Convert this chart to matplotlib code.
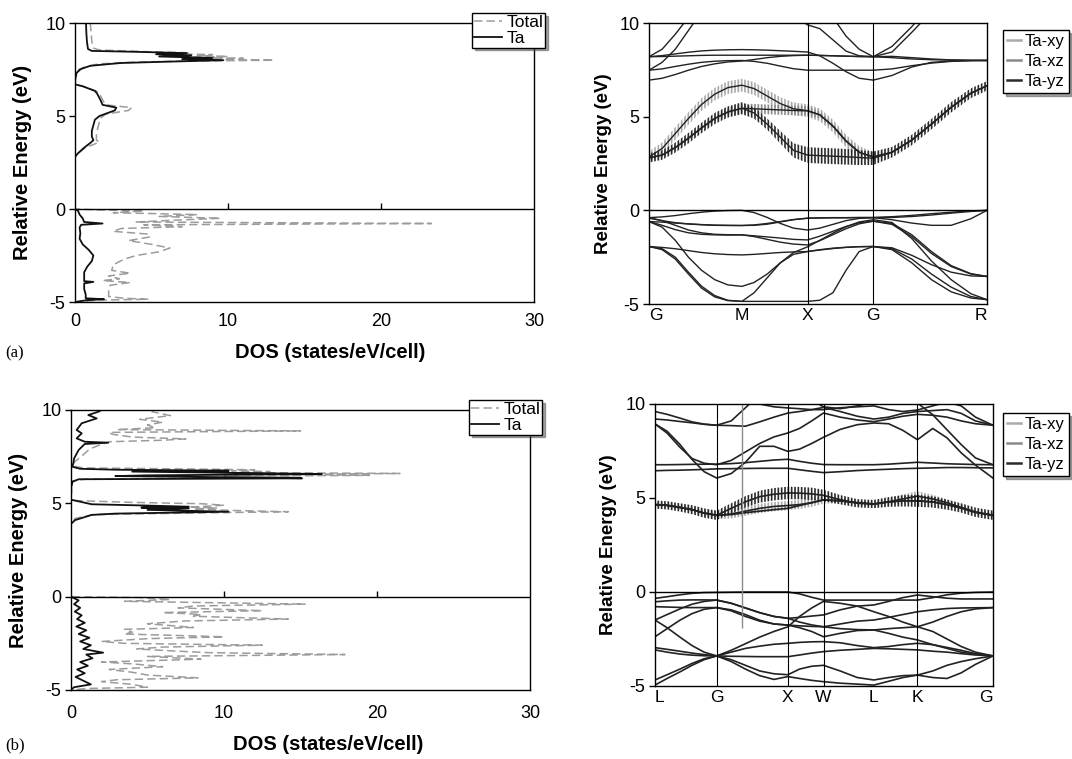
import numpy as np
import matplotlib
matplotlib.use('Agg')
import matplotlib.pyplot as plt
from matplotlib.lines import Line2D

plt.rcParams['font.family'] = 'Liberation Sans'
plt.rcParams['axes.unicode_minus'] = False
plt.rcParams['lines.scale_dashes'] = False
plt.rcParams['hatch.linewidth'] = 1.2

# ---------------------------------------------------------------------------------
# DOS data, structure (a)

ta_a_E = [10.0, 9.5, 9.0, 8.6, 8.5, 8.45, 8.38, 8.32, 8.26, 8.2, 8.12, 8.06, 8.0, 7.92, 7.85,
          7.7, 7.5, 7.3, 7.0, 6.7, 6.6, 6.35, 6.2, 5.8, 5.6, 5.45, 5.3, 5.0, 4.8, 4.5,
          4.2, 3.9, 3.7, 3.55, 3.3, 3.0, 2.8, 0.0, -0.1, -0.3, -0.5, -0.7, -0.78, -0.85, -1.0,
          -1.3, -1.6, -1.9, -2.2, -2.5, -2.8, -3.1, -3.4, -3.7, -3.88, -3.92, -4.0, -4.3, -4.6, -4.8,
          -4.85, -4.9, -5.0]
ta_a_dos = [0.72, 0.74, 0.78, 0.85, 1.1, 4.0, 7.3, 5.3, 7.6, 5.5, 9.0, 7.0, 9.7, 6.0, 3.0,
            1.0, 0.3, 0.1, 0.0, 0.0, 0.5, 1.3, 1.45, 1.7, 1.8, 2.7, 2.6, 1.6, 1.3, 1.2,
            1.1, 1.1, 1.2, 1.0, 0.6, 0.2, 0.0, 0.0, 0.2, 0.3, 0.5, 0.6, 1.8, 0.4, 0.3,
            0.35, 0.3, 0.5, 0.9, 1.2, 1.1, 0.8, 0.6, 0.6, 0.6, 1.2, 0.6, 0.6, 0.7, 0.7,
            1.9, 0.8, 0.0]

tot_a_E = [10.0, 9.5, 9.0, 8.65, 8.55, 8.45, 8.4, 8.35, 8.3, 8.25, 8.2, 8.15, 8.1, 8.05, 8.0,
           7.95, 7.9, 7.8, 7.6, 7.3, 7.0, 6.7, 6.6, 6.3, 6.2, 5.8, 5.6, 5.45, 5.3, 5.1,
           4.9, 4.7, 4.4, 4.0, 3.7, 3.6, 3.3, 3.0, 2.8, 0.0, -0.05, -0.1, -0.2, -0.3, -0.4,
           -0.5, -0.6, -0.7, -0.78, -0.85, -0.95, -1.05, -1.2, -1.35, -1.5, -1.7, -1.9, -2.1, -2.3, -2.5,
           -2.7, -3.0, -3.3, -3.45, -3.6, -3.75, -3.85, -3.95, -4.1, -4.4, -4.7, -4.8, -4.85, -4.9, -5.0]
tot_a_dos = [1.0, 1.05, 1.1, 1.2, 1.6, 5.0, 7.5, 6.0, 9.0, 8.0, 10.0, 7.5, 11.0, 8.5, 13.0,
             7.0, 4.0, 1.5, 0.5, 0.15, 0.05, 0.0, 0.5, 1.5, 1.6, 1.85, 2.0, 3.7, 3.5, 2.0,
             1.7, 1.6, 1.5, 1.4, 1.4, 1.6, 0.7, 0.2, 0.0, 0.0, 1.5, 4.5, 2.5, 8.0, 5.5,
             9.5, 6.5, 4.0, 23.3, 4.5, 7.0, 3.0, 2.5, 4.8, 4.9, 3.5, 5.0, 6.2, 5.5, 4.0,
             3.2, 2.5, 2.4, 3.6, 2.2, 2.9, 1.8, 3.6, 2.3, 2.2, 2.2, 3.2, 4.8, 1.5, 0.0]

# DOS data, structure (b)

ta_b_E = [10.0, 9.91, 9.73, 9.55, 9.29, 8.93, 8.75, 8.48, 8.3, 8.25, 8.18, 7.86, 7.4, 7.14, 6.96,
          6.85, 6.8, 6.75, 6.7, 6.62, 6.57, 6.5, 6.46, 6.4, 6.34, 6.29, 6.16, 5.9, 5.2, 5.18,
          4.95, 4.88, 4.82, 4.77, 4.73, 4.65, 4.55, 4.45, 4.38, 4.1, 3.9, 0.0, -0.2, -0.4, -0.6,
          -0.8, -1.0, -1.2, -1.4, -1.6, -1.8, -2.0, -2.2, -2.4, -2.6, -2.8, -3.0, -3.1, -3.3, -3.5,
          -3.7, -3.9, -4.1, -4.3, -4.5, -4.7, -4.85, -5.0]
ta_b_dos = [2.0, 1.8, 1.13, 1.68, 0.7, 0.37, 0.7, 0.37, 0.9, 2.44, 0.9, 0.5, 0.2, 0.15, 0.09,
            0.6, 3.0, 10.3, 4.0, 12.0, 16.4, 5.0, 2.9, 10.0, 15.1, 0.5, 0.1, 0.02, 0.0, 0.09,
            1.35, 5.0, 7.7, 4.6, 7.7, 5.0, 10.3, 2.9, 1.35, 0.26, 0.0, 0.0, 0.5, 0.2, 0.6,
            0.25, 0.7, 0.4, 0.9, 0.35, 1.0, 0.5, 1.2, 0.6, 1.3, 0.8, 2.1, 1.0, 1.4, 0.6,
            1.1, 0.4, 0.9, 0.3, 0.8, 1.3, 0.2, 0.0]

tot_b_E = [10.0, 9.91, 9.7, 9.5, 9.35, 9.2, 9.05, 8.95, 8.88, 8.8, 8.7, 8.55, 8.45, 8.38, 8.3,
           8.1, 7.9, 7.6, 7.2, 7.0, 6.9, 6.85, 6.8, 6.75, 6.7, 6.65, 6.6, 6.55, 6.5, 6.45,
           6.4, 6.35, 6.3, 6.2, 5.3, 5.15, 5.05, 4.98, 4.9, 4.85, 4.8, 4.75, 4.7, 4.62, 4.55,
           4.48, 4.4, 4.2, 4.0, 0.0, -0.05, -0.15, -0.25, -0.4, -0.5, -0.6, -0.75, -0.85, -0.95, -1.05,
           -1.2, -1.3, -1.45, -1.55, -1.65, -1.75, -1.9, -2.0, -2.15, -2.25, -2.4, -2.5, -2.6, -2.7, -2.8,
           -2.9, -3.0, -3.1, -3.2, -3.35, -3.5, -3.6, -3.75, -3.9, -4.05, -4.2, -4.35, -4.45, -4.55, -4.7,
           -4.85, -4.92, -5.0]
tot_b_dos = [5.3, 5.3, 6.5, 4.5, 6.0, 5.0, 5.5, 3.0, 15.0, 2.5, 2.7, 4.0, 7.5, 6.0, 2.5,
             1.8, 1.2, 0.8, 0.2, 0.1, 0.8, 6.5, 12.0, 10.5, 13.0, 11.0, 21.5, 14.0, 19.5, 10.0,
             14.5, 8.0, 1.0, 0.1, 0.0, 0.2, 4.0, 8.5, 10.0, 9.0, 7.7, 9.5, 8.0, 10.5, 14.2,
             8.0, 1.5, 0.3, 0.0, 0.0, 4.5, 6.5, 3.5, 15.3, 8.0, 7.0, 12.5, 6.0, 8.5, 8.0,
             14.2, 7.5, 5.0, 6.5, 8.0, 3.5, 4.0, 3.5, 10.0, 5.0, 2.0, 3.5, 12.5, 6.0, 4.3,
             6.5, 9.0, 17.9, 5.0, 8.5, 2.0, 4.0, 6.0, 2.5, 4.0, 5.0, 8.3, 3.0, 2.0, 4.0,
             5.0, 1.0, 0.0]

dos_ticks = [0, 10, 20, 30]
e_ticks = [-5, 0, 5, 10]

# ---------------------------------------------------------------------------------
# Band structure (a): G-M-X-G-R

ka = [0.0, 0.1, 0.2, 0.3, 0.4, 0.5, 0.6, 0.707, 0.8, 0.9, 1.0, 1.1, 1.207,
      1.3, 1.4, 1.5, 1.6, 1.707, 1.85, 2.0, 2.15, 2.3, 2.45, 2.573]
kpts_a = [0.0, 0.707, 1.207, 1.707, 2.573]
klabels_a = ['G', 'M', 'X', 'G', 'R']
kline_a = [1.207, 1.707]

up_a1 = [8.20, 8.60, 9.40, 10.3, 11.0, 11.5, 11.8, 12.0, 11.8, 11.4, 10.9, 10.4, 9.90,
         9.70, 9.10, 8.50, 8.25, 8.20, 8.75, 9.80, 11.0, 11.8, 12.0, 12.0]
up_a2 = [7.48, 7.90, 8.60, 9.60, 10.6, 11.5, 12.0, 12.0, 12.0, 12.0, 12.0, 12.0, 12.0,
         11.5, 10.3, 9.30, 8.60, 8.20, 8.45, 9.50, 10.6, 11.5, 12.0, 12.0]
up_a3 = [8.20, 8.21, 8.23, 8.25, 8.27, 8.28, 8.28, 8.28, 8.28, 8.28, 8.28, 8.28, 8.28,
         8.27, 8.25, 8.23, 8.21, 8.20, 8.22, 8.15, 8.08, 8.03, 8.01, 8.00]
up_a4 = [8.20, 8.26, 8.35, 8.44, 8.51, 8.55, 8.57, 8.58, 8.57, 8.55, 8.52, 8.49, 8.45,
         8.25, 7.85, 7.40, 7.05, 6.95, 7.20, 7.65, 7.90, 7.97, 7.99, 8.00]
up_a5 = [7.48, 7.55, 7.68, 7.80, 7.90, 7.96, 7.99, 8.00, 7.95, 7.85, 7.70, 7.56, 7.48,
         7.48, 7.48, 7.48, 7.48, 7.48, 7.55, 7.72, 7.86, 7.95, 7.99, 8.00]
up_a6 = [6.95, 7.05, 7.25, 7.48, 7.68, 7.82, 7.92, 7.97, 8.05, 8.15, 8.22, 8.26, 8.28,
         8.27, 8.25, 8.23, 8.21, 8.20, 8.15, 8.08, 8.04, 8.02, 8.01, 8.00]

yz_a = [2.80, 2.95, 3.35, 3.85, 4.40, 4.90, 5.25, 5.45, 5.20, 4.60, 3.90, 3.20, 2.95,
        2.92, 2.89, 2.86, 2.82, 2.78, 3.10, 3.75, 4.60, 5.50, 6.25, 6.65]
xy_a = [2.85, 3.30, 4.10, 4.90, 5.65, 6.20, 6.55, 6.68, 6.50, 6.10, 5.70, 5.42, 5.32,
        5.10, 4.50, 3.70, 3.10, 2.85, 3.10, 3.75, 4.60, 5.50, 6.25, 6.65]
xz_a = [2.80, 2.95, 3.35, 3.85, 4.40, 4.90, 5.25, 5.45, 5.42, 5.39, 5.36, 5.33, 5.31,
        5.10, 4.50, 3.70, 3.10, 2.85, 3.10, 3.75, 4.60, 5.50, 6.25, 6.65]
# orbital weights (half-width of the fat bands, eV)
yz_w_a = [0.25, 0.25, 0.27, 0.28, 0.28, 0.30, 0.30, 0.32, 0.30, 0.30, 0.33, 0.38, 0.42,
          0.42, 0.42, 0.42, 0.40, 0.36, 0.28, 0.28, 0.28, 0.28, 0.26, 0.25]
xy_w_a = [0.30, 0.32, 0.34, 0.34, 0.34, 0.34, 0.34, 0.34, 0.34, 0.34, 0.34, 0.34, 0.34,
          0.34, 0.34, 0.34, 0.32, 0.28, 0.0, 0.0, 0.0, 0.0, 0.0, 0.0]
xz_w_a = [0.12, 0.12, 0.12, 0.12, 0.12, 0.14, 0.18, 0.24, 0.26, 0.26, 0.26, 0.26, 0.26,
          0.18, 0.14, 0.14, 0.14, 0.12, 0.0, 0.0, 0.0, 0.0, 0.0, 0.0]

lo_a1 = [-0.39, -0.35, -0.28, -0.18, -0.10, -0.04, -0.01, 0.0, -0.12, -0.38, -0.70, -0.95, -1.05,
         -0.95, -0.75, -0.55, -0.43, -0.39, -0.50, -0.68, -0.80, -0.80, -0.45, 0.0]
lo_a2 = [-0.42, -0.55, -0.66, -0.73, -0.77, -0.80, -0.81, -0.81, -0.78, -0.70, -0.60, -0.49, -0.42,
         -0.40, -0.39, -0.39, -0.38, -0.38, -0.34, -0.27, -0.18, -0.10, -0.03, 0.0]
lo_a3 = [-0.60, -0.80, -1.03, -1.20, -1.28, -1.31, -1.32, -1.31, -1.36, -1.42, -1.48, -1.55, -1.58,
         -1.38, -1.12, -0.86, -0.66, -0.58, -0.75, -1.40, -2.30, -3.00, -3.40, -3.53]
lo_a4 = [-0.60, -0.90, -1.60, -2.50, -3.20, -3.70, -3.98, -4.06, -3.85, -3.40, -2.80, -2.25, -1.95,
         -1.60, -1.22, -0.88, -0.62, -0.50, -0.65, -1.50, -2.70, -3.70, -4.45, -4.77]
lo_a5 = [-1.93, -2.05, -2.50, -3.30, -4.05, -4.55, -4.80, -4.86, -4.40, -3.60, -2.80, -2.35, -2.20,
         -2.10, -2.02, -1.97, -1.94, -1.93, -2.00, -2.40, -2.90, -3.30, -3.50, -3.53]
lo_a6 = [-1.93, -2.10, -2.60, -3.40, -4.15, -4.62, -4.82, -4.86, -4.86, -4.86, -4.86, -4.86, -4.86,
         -4.80, -4.40, -3.20, -2.20, -1.93, -2.10, -2.80, -3.70, -4.35, -4.68, -4.77]
lo_a7 = [-1.93, -1.98, -2.05, -2.15, -2.25, -2.32, -2.36, -2.38, -2.35, -2.30, -2.25, -2.22, -2.20,
         -2.12, -2.04, -1.98, -1.94, -1.93, -2.05, -2.60, -3.40, -4.10, -4.60, -4.77]
lo_a8 = [-0.39, -0.55, -0.80, -1.05, -1.20, -1.28, -1.30, -1.31, -1.40, -1.55, -1.70, -1.80, -1.85,
         -1.62, -1.30, -0.98, -0.72, -0.58, -0.70, -1.30, -2.20, -2.95, -3.38, -3.53]
lo_a9 = [-0.60, -0.63, -0.68, -0.72, -0.76, -0.79, -0.80, -0.81, -0.80, -0.74, -0.62, -0.50, -0.42,
         -0.41, -0.40, -0.40, -0.39, -0.39, -0.38, -0.33, -0.25, -0.15, -0.06, 0.0]

# ---------------------------------------------------------------------------------
# Band structure (b): L-G-X-W-L-K-G

kb = [0.0, 0.17, 0.35, 0.52, 0.69, 0.866, 1.07, 1.27, 1.47, 1.67, 1.866,
      2.03, 2.2, 2.366, 2.6, 2.84, 3.073, 3.28, 3.48, 3.685, 3.9, 4.1, 4.3, 4.5, 4.746]
kpts_b = [0.0, 0.866, 1.866, 2.366, 3.073, 3.685, 4.746]
klabels_b = ['L', 'G', 'X', 'W', 'L', 'K', 'G']
kline_b = [0.866, 1.866, 2.366, 3.685]
kmark_b = 1.217

up_b1 = [6.77, 6.77, 6.78, 6.79, 6.80, 6.80, 6.83, 6.88, 6.95, 7.02, 7.06,
         6.95, 6.85, 6.78, 6.77, 6.77, 6.77, 6.80, 6.85, 6.90, 6.86, 6.82, 6.80, 6.78, 6.77]
up_b2 = [6.45, 6.47, 6.48, 6.50, 6.52, 6.55, 6.56, 6.57, 6.58, 6.58, 6.58,
         6.50, 6.42, 6.35, 6.40, 6.46, 6.50, 6.53, 6.56, 6.58, 6.60, 6.62, 6.62, 6.61, 6.60]
up_b3 = [8.94, 8.55, 7.85, 7.05, 6.40, 6.06, 6.30, 6.90, 7.75, 7.75, 7.48,
         7.60, 7.90, 8.23, 8.65, 8.90, 8.99, 8.95, 8.60, 8.10, 8.70, 8.20, 7.40, 6.75, 6.06]
up_b4 = [8.94, 8.45, 7.70, 7.10, 6.85, 6.77, 7.00, 7.45, 7.90, 8.25, 8.46,
         8.70, 9.10, 9.52, 9.30, 9.15, 9.06, 9.20, 9.35, 9.45, 9.40, 9.30, 9.10, 8.95, 8.87]
up_b5 = [9.20, 9.15, 9.07, 9.00, 8.92, 8.87, 8.85, 8.82, 9.05, 9.30, 9.52,
         9.60, 9.70, 9.82, 9.60, 9.35, 9.20, 9.30, 9.50, 9.60, 9.65, 9.70, 9.50, 9.10, 8.87]
up_b6 = [9.60, 9.45, 9.25, 9.05, 8.93, 8.87, 9.10, 9.80, 10.5, 11.0, 11.0,
         10.6, 10.2, 9.85, 9.75, 9.90, 10.1, 10.1, 10.3, 10.05, 9.43, 8.63, 7.84, 7.13, 6.77]
up_b7 = [9.96, 10.2, 10.4, 10.5, 10.5, 10.5, 10.4, 10.2, 10.0, 9.85, 9.79,
         9.75, 9.70, 9.70, 9.80, 9.85, 9.90, 9.70, 9.60, 9.68, 9.90, 10.1, 9.90, 9.30, 8.87]

yz_b = [4.65, 4.61, 4.50, 4.38, 4.20, 4.08, 4.45, 4.80, 5.07, 5.20, 5.27,
        5.26, 5.22, 5.14, 4.91, 4.72, 4.68, 4.79, 4.85, 4.85, 4.79, 4.65, 4.47, 4.24, 4.08]
xy_b = [4.65, 4.61, 4.50, 4.38, 4.20, 4.08, 4.15, 4.30, 4.45, 4.55, 4.60,
        4.65, 4.75, 4.90, 4.85, 4.75, 4.68, 4.80, 4.95, 5.10, 4.95, 4.75, 4.50, 4.25, 4.08]
xz_b = [4.65, 4.61, 4.50, 4.38, 4.20, 4.08, 4.12, 4.22, 4.30, 4.38, 4.45,
        4.60, 4.75, 4.90, 4.85, 4.75, 4.68, 4.79, 4.85, 4.85, 4.79, 4.65, 4.47, 4.24, 4.08]
yz_w_b = [0.22, 0.22, 0.22, 0.24, 0.25, 0.25, 0.27, 0.30, 0.32, 0.33, 0.33,
          0.33, 0.33, 0.30, 0.25, 0.22, 0.22, 0.26, 0.30, 0.32, 0.30, 0.27, 0.25, 0.25, 0.25]
xy_w_b = [0.12, 0.12, 0.12, 0.14, 0.18, 0.22, 0.24, 0.24, 0.24, 0.24, 0.24,
          0.24, 0.22, 0.20, 0.14, 0.12, 0.12, 0.18, 0.24, 0.26, 0.22, 0.18, 0.15, 0.12, 0.12]
xz_w_b = [0.05, 0.05, 0.05, 0.05, 0.05, 0.06, 0.08, 0.08, 0.08, 0.08, 0.08,
          0.08, 0.08, 0.08, 0.05, 0.05, 0.05, 0.05, 0.05, 0.05, 0.05, 0.05, 0.05, 0.05, 0.05]

lo_b1 = [-0.34, -0.25, -0.15, -0.07, -0.03, -0.02, -0.01, 0.0, 0.0, 0.0, 0.0,
         -0.10, -0.28, -0.43, -0.43, -0.43, -0.43, -0.43, -0.43, -0.43, -0.30, -0.15, -0.06, -0.02, 0.0]
lo_b2 = [-0.52, -0.47, -0.43, -0.42, -0.42, -0.43, -0.60, -0.85, -1.10, -1.30, -1.40,
         -1.35, -1.28, -1.22, -0.95, -0.75, -0.69, -0.50, -0.30, -0.16, -0.25, -0.33, -0.37, -0.37, -0.37]
lo_b3 = [-0.78, -0.80, -0.82, -0.83, -0.83, -0.83, -0.95, -1.20, -1.50, -1.70, -1.76,
         -1.80, -1.83, -1.85, -1.70, -1.55, -1.49, -1.35, -1.20, -1.05, -0.95, -0.88, -0.85, -0.84, -0.83]
lo_b4 = [-1.49, -1.90, -2.40, -2.85, -3.20, -3.40, -3.20, -3.00, -2.88, -2.78, -2.73,
         -2.68, -2.65, -2.64, -2.70, -2.85, -2.96, -2.90, -2.80, -2.73, -2.80, -2.95, -3.10, -3.28, -3.40]
lo_b5 = [-2.38, -1.95, -1.50, -1.15, -0.92, -0.83, -1.00, -1.30, -1.55, -1.70, -1.76,
         -1.90, -2.10, -2.38, -2.20, -2.05, -2.02, -1.95, -1.90, -1.85, -1.60, -1.30, -1.05, -0.90, -0.83]
lo_b6 = [-2.96, -3.05, -3.15, -3.25, -3.33, -3.40, -3.42, -3.43, -3.44, -3.44, -3.44,
         -3.35, -3.25, -3.17, -3.10, -3.05, -3.00, -3.02, -3.05, -3.08, -3.15, -3.20, -3.28, -3.35, -3.40]
lo_b7 = [-4.95, -4.60, -4.25, -3.90, -3.60, -3.40, -3.70, -4.10, -4.45, -4.65, -4.50,
         -4.60, -4.70, -4.77, -4.85, -4.90, -4.95, -4.75, -4.55, -4.42, -4.55, -4.60, -4.30, -3.85, -3.40]
lo_b8 = [-4.68, -4.40, -4.10, -3.80, -3.55, -3.40, -3.60, -3.90, -4.20, -4.35, -4.40,
         -4.10, -3.95, -3.90, -4.20, -4.55, -4.68, -4.55, -4.45, -4.42, -4.20, -3.90, -3.70, -3.55, -3.40]
lo_b9 = [-3.08, -3.20, -3.30, -3.36, -3.39, -3.40, -3.10, -2.75, -2.40, -2.10, -1.85,
         -1.30, -0.85, -0.50, -0.60, -0.75, -1.05, -1.30, -1.60, -1.85, -2.10, -2.50, -2.90, -3.20, -3.40]
lo_b10 = [-1.49, -1.20, -0.90, -0.65, -0.50, -0.43, -0.60, -0.85, -1.10, -1.30, -1.40,
          -1.60, -1.75, -1.85, -1.95, -2.00, -2.02, -2.20, -2.40, -2.55, -2.80, -3.00, -3.20, -3.30, -3.40]

# ---------------------------------------------------------------------------------

W, H = 1072, 759
fig = plt.figure(figsize=(W / 100, H / 100), dpi=100)


def px_rect(left, top, right, bottom):
    return [left / W, 1 - bottom / H, (right - left) / W, (bottom - top) / H]


c_total = '#9c9c9c'
c_ta = '#111111'
c_xy = '#a9a9a9'
c_xz = '#8a8a8a'
c_yz = '#2a2a2a'
c_band = '#222222'


def draw_dos(rect, tot_dos, tot_E, ta_dos, ta_E, leg_xy, tick_pad, xlab_xy, ylab_x):
    ax = fig.add_axes(rect)
    ax.plot(tot_dos, tot_E, color=c_total, lw=1.1, dashes=(6, 3), label='Total')
    ax.plot(ta_dos, ta_E, color=c_ta, lw=1.3, label='Ta')
    ax.set_xlim(0, 30)
    ax.set_ylim(-5, 10)
    ax.set_xticks(dos_ticks)
    ax.set_yticks(e_ticks)
    # energy zero axis with its own small ticks
    ax.axhline(0, color='k', lw=1)
    ax.vlines(dos_ticks[1:-1], 0, 0.3, color='k', lw=1)
    ax.tick_params(axis='x', length=0, pad=tick_pad, labelsize=13)
    ax.tick_params(axis='y', length=4, width=1, labelsize=13, pad=3)
    for s in ax.spines.values():
        s.set_linewidth(1)
    ax.set_xlabel('DOS (states/eV/cell)', fontsize=14.5, fontweight='bold')
    ax.xaxis.set_label_coords(*xlab_xy)
    ax.set_ylabel('Relative Energy (eV)', fontsize=14.5, fontweight='bold')
    ax.yaxis.set_label_coords(ylab_x, 0.5)
    ax.legend(loc='upper left', bbox_to_anchor=(leg_xy[0] / W, 1 - leg_xy[1] / H),
              bbox_transform=fig.transFigure, fontsize=12.5, frameon=True, fancybox=False,
              shadow=True, edgecolor='k', framealpha=1, handlelength=1.6, handletextpad=0.3,
              borderpad=0.1, labelspacing=0.05, borderaxespad=0)
    return ax


def draw_bands(rect, kgrid, bands, fat, kpts, klabels, klines, leg_xy, ylab_x, band_lw):
    ax = fig.add_axes(rect)
    for E, w, color in fat:
        E = np.array(E)
        w = np.array(w)
        ax.fill_between(kgrid, E - w, E + w, facecolor='none', edgecolor=color,
                        linewidth=0, hatch='|||||')
    for E in bands:
        ax.plot(kgrid, E, color=c_band, lw=band_lw)
    for k in klines:
        ax.axvline(k, color='k', lw=0.8)
    ax.axhline(0, color='k', lw=1)
    ax.set_xlim(kgrid[0], kgrid[-1])
    ax.set_ylim(-5, 10)
    ax.set_yticks(e_ticks)
    ax.set_xticks(kpts)
    ax.set_xticklabels(klabels)
    labels = ax.get_xticklabels()
    labels[0].set_ha('left')
    labels[-1].set_ha('right')
    ax.tick_params(axis='x', length=0, pad=3, labelsize=12.5)
    ax.tick_params(axis='y', length=4, width=1, labelsize=13, pad=3)
    for s in ax.spines.values():
        s.set_linewidth(1)
    ax.set_ylabel('Relative Energy (eV)', fontsize=13.5, fontweight='bold')
    ax.yaxis.set_label_coords(ylab_x, 0.5)
    handles = [Line2D([], [], color=c_xy, lw=1.8),
               Line2D([], [], color=c_xz, lw=1.8),
               Line2D([], [], color=c_yz, lw=1.8)]
    ax.legend(handles, ['Ta-xy', 'Ta-xz', 'Ta-yz'], loc='upper left',
              bbox_to_anchor=(leg_xy[0] / W, 1 - leg_xy[1] / H), bbox_transform=fig.transFigure,
              fontsize=12, frameon=True, fancybox=False, shadow=True, edgecolor='k',
              framealpha=1, handlelength=0.8, handletextpad=0.25, borderpad=0.25,
              labelspacing=0.3, borderaxespad=0)
    return ax


# (a) DOS and bands
draw_dos(px_rect(75, 23, 534, 302), tot_a_dos, tot_a_E, ta_a_dos, ta_a_E,
         (472, 13), 8, (0.556, -0.147), -0.094)
bands_a = [up_a1, up_a2, up_a3, up_a4, up_a5, up_a6, yz_a, xy_a, xz_a,
           lo_a1, lo_a2, lo_a3, lo_a4, lo_a5, lo_a6, lo_a7, lo_a8, lo_a9]
fat_a = [(xy_a, xy_w_a, c_xy), (xz_a, xz_w_a, c_xz), (yz_a, yz_w_a, c_yz)]
draw_bands(px_rect(649, 23, 987, 304), ka, bands_a, fat_a, kpts_a, klabels_a, kline_a,
           (1003, 30), -0.109, 1.0)

# (b) DOS and bands
draw_dos(px_rect(71, 410, 530, 690), tot_b_dos, tot_b_E, ta_b_dos, ta_b_E,
         (469, 400), 11, (0.56, -0.161), -0.094)
bands_b = [up_b1, up_b2, up_b3, up_b4, up_b5, up_b6, up_b7, yz_b, xy_b, xz_b,
           lo_b1, lo_b2, lo_b3, lo_b4, lo_b5, lo_b6, lo_b7, lo_b8, lo_b9, lo_b10]
fat_b = [(xy_b, xy_w_b, c_xy), (xz_b, xz_w_b, c_xz), (yz_b, yz_w_b, c_yz)]
axb = draw_bands(px_rect(655, 404, 993, 686), kb, bands_b, fat_b, kpts_b, klabels_b, kline_b,
                 (1003, 413), -0.112, 1.2)
axb.vlines(kmark_b, -1.93, 10, color='#8a8a8a', lw=1.0)

fig.text(5 / W, 1 - 353 / H, '(a)', family='Liberation Serif', fontsize=12, va='center')
fig.text(5 / W, 1 - 745 / H, '(b)', family='Liberation Serif', fontsize=12, va='center')

fig.savefig('out.png', dpi=100)
